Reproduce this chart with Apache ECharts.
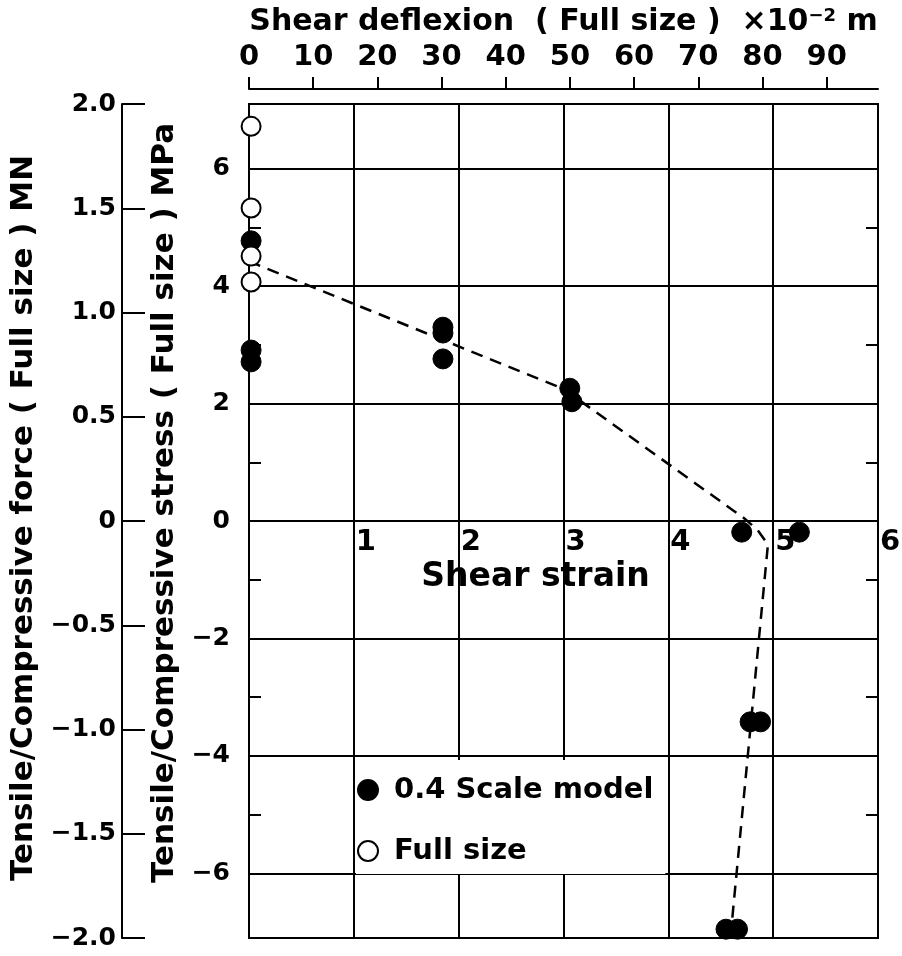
<!DOCTYPE html>
<html>
<head>
<meta charset="utf-8">
<script src="https://cdn.jsdelivr.net/npm/echarts@6/dist/echarts.min.js"></script>
<style>
html,body{margin:0;padding:0;background:#fff;}
#chart{width:902px;height:956px;}
</style>
</head>
<body>
<div id="chart"></div>
<script>
// ---- data ----
const scaleModelStrain = [0.02, 0.02, 0.02, 1.85, 1.85, 1.85, 3.06, 3.08, 4.70, 5.25, 4.78, 4.88, 4.55, 4.66];
const scaleModelStress = [4.77, 2.91, 2.71, 3.30, 3.20, 2.76, 2.26, 2.03, -0.19, -0.19, -3.42, -3.42, -6.95, -6.95];
const fullSizeStrain = [0.02, 0.02, 0.02, 0.02];
const fullSizeStress = [6.72, 5.33, 4.51, 4.07];
const trendStrain = [0, 3.0, 4.72, 4.85, 4.95, 4.6];
const trendStress = [4.42, 2.25, 0.05, -0.15, -0.4, -6.95];
const seriesNames = ['0.4 Scale model', 'Full size'];

// axis ranges / ticks
const strainRange = [0, 6];
const deflexionRange = [0, 98];        // full axis line length
const deflexionTickRange = [0, 90];    // labelled ticks 0..90
const forceRange = [-2, 2];
const stressFrameRange = [-7.1, 7.1];
const stressTickRange = [-6, 6];

const FONT = 'DejaVu Sans';
const BLACK = '#000';
const minus = v => String(v).replace('-', '\u2212');
const pairs = (xs, ys) => xs.map((x, i) => [x, ys[i]]);

// layout
const L = 249, R = 24, T = 104, B = 18;
const H = 956 - T - B;
const pxPerMPa = H / (stressFrameRange[1] - stressFrameRange[0]);
const mid = T + H / 2;
const g1Top = mid - stressTickRange[1] * pxPerMPa;
const g1Bottom = 956 - (mid - stressTickRange[0] * pxPerMPa);
const W = 902 - L - R;
const g2Width = W * deflexionTickRange[1] / deflexionRange[1];

const chart = echarts.init(document.getElementById('chart'), null, {renderer: 'canvas'});
const txt = (size) => ({fontFamily: FONT, fontWeight: 'bold', fontSize: size, color: BLACK});
const noBounds = {outerBoundsMode: 'none', containLabel: false};

chart.setOption({
  animation: false,
  backgroundColor: '#fff',
  grid: [
    Object.assign({left: L, right: R, top: T, bottom: B, show: true, borderColor: BLACK, borderWidth: 2, backgroundColor: 'transparent'}, noBounds),
    Object.assign({left: L, right: R, top: g1Top, bottom: g1Bottom}, noBounds),
    Object.assign({left: L, width: g2Width, top: 89, height: 10}, noBounds),
    Object.assign({left: L, right: R, top: T, bottom: 956 - mid}, noBounds)
  ],
  xAxis: [
    { // strain grid lines (main frame)
      gridIndex: 0, type: 'value', min: strainRange[0], max: strainRange[1], interval: 1,
      position: 'bottom',
      axisLine: {show: false}, axisTick: {show: false}, axisLabel: {show: false},
      splitLine: {show: true, lineStyle: {color: BLACK, width: 2}}
    },
    { // deflexion axis line (full length) + title
      gridIndex: 0, type: 'value', min: deflexionRange[0], max: deflexionRange[1],
      position: 'top', offset: T - 89,
      axisLine: {show: true, onZero: false, lineStyle: {color: BLACK, width: 2}},
      axisTick: {show: false}, axisLabel: {show: false}, splitLine: {show: false},
      name: '{t|Shear deflexion  ( Full size )  \u00d710}{s|\u22122}{t| m}',
      nameLocation: 'middle', nameGap: 52,
      nameTextStyle: {rich: {
        t: txt(30),
        s: Object.assign(txt(18), {padding: [0, 0, 12, 0]})
      }}
    },
    { // deflexion ticks + labels
      gridIndex: 2, type: 'value', min: deflexionTickRange[0], max: deflexionTickRange[1], interval: 10,
      position: 'top',
      axisLine: {show: false, onZero: false},
      axisTick: {show: true, length: 12, lineStyle: {color: BLACK, width: 2}},
      axisLabel: Object.assign(txt(29), {margin: 17}),
      splitLine: {show: false}
    },
    {gridIndex: 1, type: 'value', min: strainRange[0], max: strainRange[1], show: false},
    { // strain labels sitting on the zero stress line
      gridIndex: 3, type: 'value', min: strainRange[0], max: strainRange[1], interval: 1,
      position: 'bottom',
      axisLine: {show: false, onZero: false}, axisTick: {show: false},
      axisLabel: Object.assign(txt(29), {margin: 7, align: 'left', padding: [0, 0, 0, 2],
        formatter: v => v === 0 ? '' : String(v)}),
      splitLine: {show: false},
      name: 'Shear strain', nameLocation: 'middle', nameGap: 40,
      nameTextStyle: Object.assign(txt(33), {padding: [0, 56, 0, 0]})
    }
  ],
  yAxis: [
    { // stress frame for data
      gridIndex: 0, type: 'value', min: stressFrameRange[0], max: stressFrameRange[1], show: false
    },
    { // force axis
      gridIndex: 0, type: 'value', min: forceRange[0], max: forceRange[1], interval: 0.5,
      position: 'left', offset: 127,
      axisLine: {show: true, onZero: false, lineStyle: {color: BLACK, width: 2}},
      axisTick: {show: true, inside: true, length: 23, lineStyle: {color: BLACK, width: 2}},
      axisLabel: Object.assign(txt(25), {margin: 6,
        formatter: v => v === 0 ? '0' : minus(v.toFixed(1))}),
      splitLine: {show: false},
      name: 'Tensile/Compressive force ( Full size ) MN',
      nameLocation: 'middle', nameRotate: 90, nameGap: 73,
      nameTextStyle: Object.assign(txt(31), {padding: [0, 0, 0, 6]})
    },
    { // stress ticks/labels
      gridIndex: 1, type: 'value', min: stressTickRange[0], max: stressTickRange[1], interval: 2,
      position: 'left',
      axisLine: {show: false, onZero: false},
      axisTick: {show: false, inside: true},
      minorTick: {show: true, splitNumber: 2, length: 12, lineStyle: {color: BLACK, width: 2}},
      axisLabel: Object.assign(txt(25), {margin: 19, formatter: v => minus(v)}),
      splitLine: {show: true, lineStyle: {color: BLACK, width: 2}},
      name: 'Tensile/Compressive stress ( Full size ) MPa',
      nameLocation: 'middle', nameRotate: 90, nameGap: 58,
      nameTextStyle: Object.assign(txt(31), {padding: [0, 0, 0, 36]})
    },
    { // right side minor ticks
      gridIndex: 1, type: 'value', min: stressTickRange[0], max: stressTickRange[1], interval: 2,
      position: 'right',
      axisLine: {show: false, onZero: false},
      axisTick: {show: false, inside: true},
      minorTick: {show: true, splitNumber: 2, length: 12, lineStyle: {color: BLACK, width: 2}},
      axisLabel: {show: false},
      splitLine: {show: false}
    },
    {gridIndex: 2, type: 'value', show: false},
    {gridIndex: 3, type: 'value', show: false}
  ],
  legend: {
    data: seriesNames,
    orient: 'vertical',
    left: 356, top: 760,
    padding: [14, 12, 7, 1],
    backgroundColor: '#fff',
    itemWidth: 20, itemHeight: 20, itemGap: 29,
    textStyle: Object.assign(txt(29), {lineHeight: 32, padding: [0, 0, 0, 11]}),
    selectedMode: false
  },
  series: [
    {
      name: 'trend', type: 'line', xAxisIndex: 0, yAxisIndex: 0,
      data: pairs(trendStrain, trendStress),
      showSymbol: false, symbol: 'none', clip: false, silent: true, z: 2,
      lineStyle: {color: BLACK, width: 2.5, type: [12, 8]}
    },
    {
      name: seriesNames[0], type: 'scatter', xAxisIndex: 0, yAxisIndex: 0,
      data: pairs(scaleModelStrain, scaleModelStress),
      symbol: 'circle', symbolSize: 20, clip: false, z: 3,
      itemStyle: {color: BLACK, borderColor: BLACK, borderWidth: 1, opacity: 1}
    },
    {
      name: seriesNames[1], type: 'scatter', xAxisIndex: 0, yAxisIndex: 0,
      data: pairs(fullSizeStrain, fullSizeStress),
      symbol: 'circle', symbolSize: 19, clip: false, z: 4,
      itemStyle: {color: '#fff', borderColor: BLACK, borderWidth: 2, opacity: 1}
    }
  ]
});
</script>
</body>
</html>
